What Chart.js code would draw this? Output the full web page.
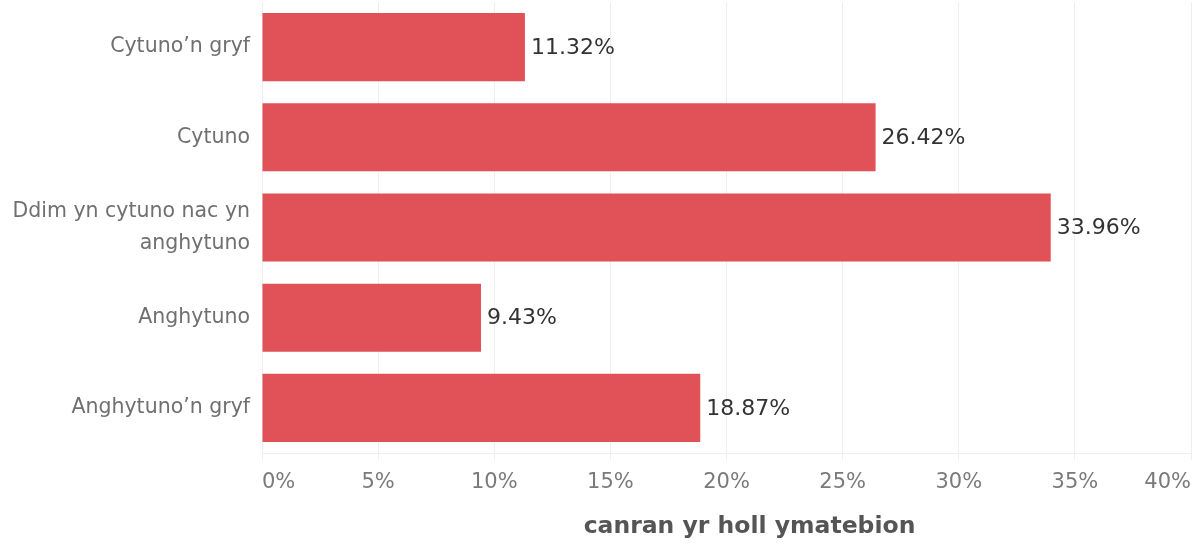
<!DOCTYPE html>
<html>
<head>
<meta charset="utf-8">
<script src="https://cdn.jsdelivr.net/npm/chart.js@4/dist/chart.umd.min.js"></script>
<style>
  html, body { margin: 0; padding: 0; background: #fff; }
  #wrap { width: 1200px; height: 549px; position: relative; }
</style>
</head>
<body>
<div id="wrap"><canvas id="chart"></canvas></div>
<script>
// ── Data ──
const categorias = [
  "Cytuno’n gryf",
  "Cytuno",
  ["Ddim yn cytuno nac yn", "anghytuno"],
  "Anghytuno",
  "Anghytuno’n gryf",
];
const canrannau = [11.32, 26.42, 33.96, 9.43, 18.87];
const ticksX = [0, 5, 10, 15, 20, 25, 30, 35, 40];
const tituloX = 'canran yr holl ymatebion';

const FONT = '"DejaVu Sans", sans-serif';

// ── Etiquetas de valor y título del eje ──
const extras = {
  id: 'extras',
  afterDatasetsDraw(chart) {
    const { ctx } = chart;
    const meta = chart.getDatasetMeta(0);
    ctx.save();
    ctx.font = '22px ' + FONT;
    ctx.fillStyle = '#333333';
    ctx.textAlign = 'left';
    ctx.textBaseline = 'middle';
    meta.data.forEach((bar, i) => {
      ctx.fillText(canrannau[i].toFixed(2) + '%', bar.x + 6, bar.y + 1);
    });
    ctx.restore();
  },
  afterDraw(chart) {
    const { ctx } = chart;
    const x = chart.scales.x;
    ctx.save();
    ctx.font = 'bold 23.5px ' + FONT;
    ctx.fillStyle = '#555555';
    ctx.textAlign = 'center';
    ctx.textBaseline = 'middle';
    ctx.fillText(tituloX, (x.left + x.right) / 2 + 23, x.bottom - 22);
    ctx.restore();
  }
};

new Chart(document.getElementById('chart'), {
  type: 'bar',
  data: {
    labels: categorias,
    datasets: [{
      data: canrannau,
      backgroundColor: '#e05257',
      borderWidth: 0,
      categoryPercentage: 0.755,
      barPercentage: 1,
    }]
  },
  options: {
    indexAxis: 'y',
    responsive: true,
    maintainAspectRatio: false,
    animation: false,
    layout: { padding: { top: 2, right: 9, bottom: 0, left: 0 } },
    plugins: {
      legend: { display: false },
      tooltip: { enabled: false },
    },
    scales: {
      x: {
        min: 0,
        max: 40,
        afterBuildTicks(scale) {
          scale.ticks = ticksX.map(v => ({ value: v }));
        },
        afterFit(scale) {
          scale.height = 96;
          scale.paddingLeft = 0;
          scale.paddingRight = 0;
        },
        grid: {
          color: '#eeeeee',
          lineWidth: 1,
          drawTicks: true,
          tickLength: 7,
        },
        border: { display: true, color: '#eeeeee' },
        ticks: {
          align: 'inner',
          padding: 10,
          color: '#7a7a7a',
          font: { family: FONT, size: 21 },
          callback: v => v + '%',
        },
      },
      y: {
        afterFit(scale) {
          scale.width = 262;
          scale.paddingTop = 0;
          scale.paddingBottom = 0;
        },
        grid: { display: false },
        border: { display: false },
        ticks: {
          padding: 4,
          color: '#707070',
          font: { family: FONT, size: 20.5, lineHeight: 1.55 },
        },
      },
    },
  },
  plugins: [extras],
});
</script>
</body>
</html>
